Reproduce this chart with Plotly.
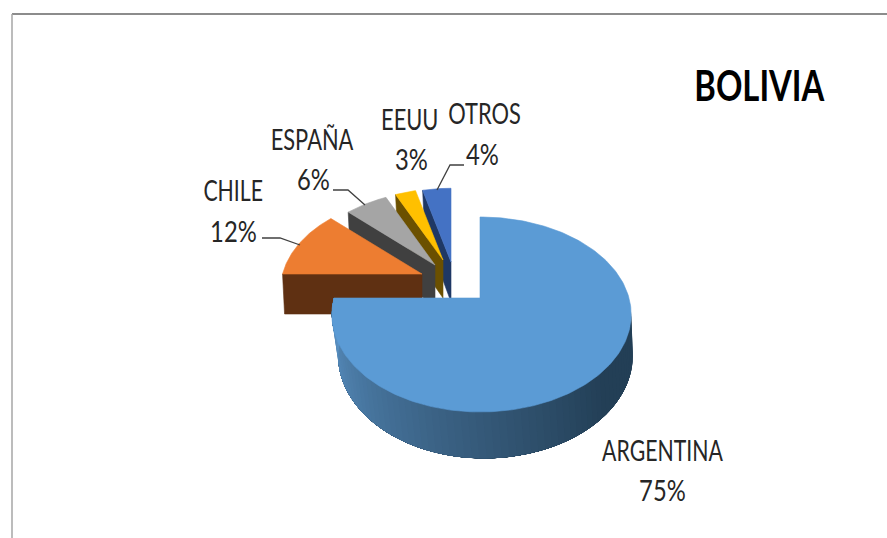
import math
import plotly.graph_objects as go

categories = ["ARGENTINA", "CHILE", "ESPAÑA", "EEUU", "OTROS"]
shares = [75, 12, 6, 3, 4]
top_colors = ["#5B9BD5", "#ED7D31", "#A5A5A5", "#FFC000", "#4472C4"]
side_colors = ["#3A6A92", "#5F3012", "#404040", "#6B5000", "#1F3864"]

# view geometry, in page pixels
W, H = 887, 538
RX_LEFT, RX_RIGHT, RY, K = 146, 149, 94.7, 0.169
DEPTH = 40
RIM_SHIFT = 4
pivots = {"ARGENTINA": (480, 298), "CHILE": (422, 274), "ESPAÑA": (435, 265),
          "EEUU": (443, 260), "OTROS": (451, 262)}
scales = {"ARGENTINA": 1.0, "CHILE": 0.955, "ESPAÑA": 0.91, "EEUU": 0.88, "OTROS": 0.91}
depths = {"ARGENTINA": DEPTH, "CHILE": 40, "ESPAÑA": 40, "EEUU": 38, "OTROS": 40}


def project(theta, pivot, scale, lower=0.0):
    u, v = math.sin(theta), math.cos(theta)
    w = 1 + K * v
    rx = RX_RIGHT if u > 0 else RX_LEFT
    s = scale * (1 - 0.015 * (lower > 0))
    shift = RIM_SHIFT if lower > 0 else 0
    return pivot[0] + rx * s * u / w + shift, pivot[1] - RY * s * v / w + lower / w


def arc(a0, a1, pivot, scale, lower=0.0, n=80):
    pts = [project(a0 + (a1 - a0) * i / n, pivot, scale, lower) for i in range(n + 1)]
    return [p[0] for p in pts], [p[1] for p in pts]


def poly(fig, xs, ys, color, lw=0.6):
    fig.add_trace(go.Scatter(
        x=xs + xs[:1], y=ys + ys[:1], mode="lines", fill="toself", fillcolor=color,
        line=dict(color=color, width=lw), hoverinfo="skip", showlegend=False))


def mix(c0, c1, t):
    a = [int(c0[i:i + 2], 16) for i in (1, 3, 5)]
    b = [int(c1[i:i + 2], 16) for i in (1, 3, 5)]
    return "#" + "".join(f"{round(x + (y - x) * t):02x}" for x, y in zip(a, b))


fig = go.Figure()

# angular spans from the shares
spans = {}
start = 0.0
for name, share in zip(categories, shares):
    end = start + share / sum(shares) * 2 * math.pi
    spans[name] = (start, end)
    start = end

# exploded slices, back to front
for name in ["OTROS", "EEUU", "ESPAÑA", "CHILE"]:
    i = categories.index(name)
    a0, a1 = spans[name]
    p, sc, d = pivots[name], scales[name], depths[name]
    ex, ey = project(a0, p, sc)
    poly(fig, [ex, p[0], p[0], ex + 2], [ey, p[1], p[1] + d, ey + d], side_colors[i])
    xs, ys = arc(a0, a1, p, sc)
    poly(fig, [p[0]] + xs, [p[1]] + ys, top_colors[i])

# main slice: rim shading (each band overlaps the next so no seams show), then top face
a0, a1 = spans["ARGENTINA"]
p = pivots["ARGENTINA"]
rim_start, rim_end = math.radians(98), a1
N = 70
for k in range(N):
    t0 = rim_start + (rim_end - rim_start) * k / N
    t1 = rim_end
    xa, ya = arc(t0, t1, p, 1.0, n=30)
    xb, yb = arc(t1, t0, p, 1.0, DEPTH, n=30)
    f = k / (N - 1)
    col = mix("#233F56", "#5B93C6", max(0.0, (f - 0.2) / 0.8) ** 1.1)
    poly(fig, xa + xb, ya + yb, col, lw=0)
xs, ys = arc(a0, a1, p, 1.0, n=240)
poly(fig, [p[0]] + xs, [p[1]] + ys, top_colors[0])

FONT = "Lato, Liberation Sans, sans-serif"
label_pos = {"ARGENTINA": ((662, 450), (662, 490)), "CHILE": ((233, 190), (233, 231)),
             "ESPAÑA": ((312, 139), (313, 179)), "EEUU": ((410, 119), (411, 159)),
             "OTROS": ((484, 113), (482, 154))}
annotations = []
for name, share in zip(categories, shares):
    for (x, y), text in zip(label_pos[name], (name, f"{share}%")):
        annotations.append(dict(x=x, y=y, text=text, showarrow=False, xref="x", yref="y",
                                font=dict(family=FONT, size=28, color="#262626")))
annotations.append(dict(x=759, y=85, text="<b>BOLIVIA</b>", showarrow=False, xref="x", yref="y",
                        font=dict(family=FONT, size=42, color="#000000")))

leaders = [[(262, 238), (280, 238), (300, 245)],
           [(333, 190), (348, 190), (365, 205)],
           [(464, 165), (450, 165), (437, 190)]]
shapes = []
for pts in leaders:
    path = "M " + " L ".join(f"{x},{y}" for x, y in pts)
    shapes.append(dict(type="path", path=path, line=dict(color="#404040", width=1.3), xref="x", yref="y"))
shapes.append(dict(type="line", x0=12, x1=887, y0=14, y1=14, line=dict(color="#8C8C8C", width=2), xref="x", yref="y"))
shapes.append(dict(type="line", x0=12, x1=12, y0=14, y1=538, line=dict(color="#A6A6A6", width=1.5), xref="x", yref="y"))

fig.update_layout(
    width=W, height=H, margin=dict(l=0, r=0, t=0, b=0),
    paper_bgcolor="white", plot_bgcolor="white", showlegend=False,
    xaxis=dict(range=[0, W], visible=False, fixedrange=True),
    yaxis=dict(range=[H, 0], visible=False, fixedrange=True),
    annotations=annotations, shapes=shapes,
)
post = """
document.body.style.margin = '0';
document.querySelectorAll('.annotation-text').forEach(function (t) {
  var n = t.getComputedTextLength();
  var s = t.textContent;
  var f = s.indexOf('%') >= 0 ? 0.85 : (s === 'ARGENTINA' || s === 'CHILE' ? 0.76 : 0.78);
  t.setAttribute('textLength', n * f);
  t.setAttribute('lengthAdjust', 'spacingAndGlyphs');
});
"""
fig.write_html("out.html", config={"displayModeBar": False}, post_script=post)
